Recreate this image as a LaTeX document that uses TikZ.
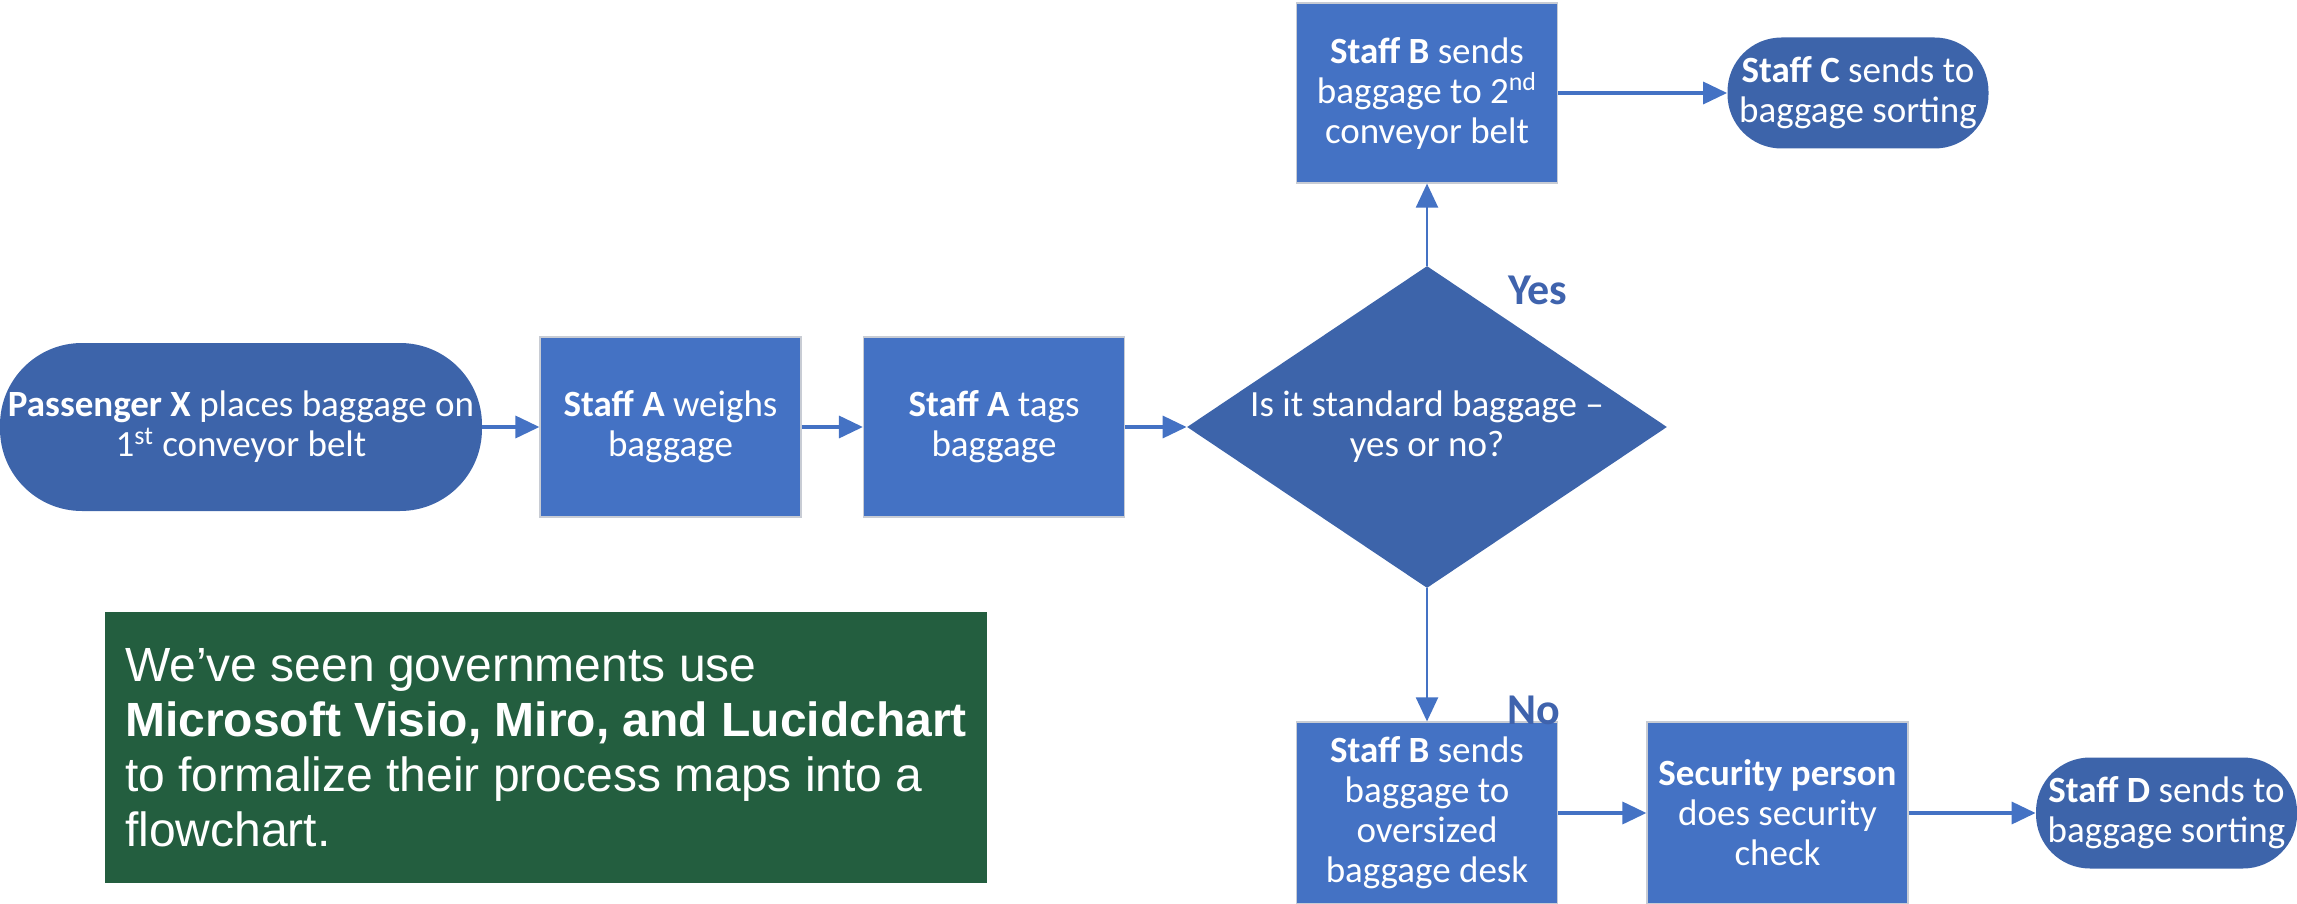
\documentclass[tikz,border=0pt]{standalone}
\usepackage{fontspec}
\setmainfont{Carlito}
\newfontfamily\arialf{Liberation Sans}
\usetikzlibrary{shapes.geometric,arrows.meta}
\definecolor{boxblue}{HTML}{4472C4}
\definecolor{darkblue}{HTML}{3D64AA}
\definecolor{labelblue}{HTML}{3F63AD}
\definecolor{boxgreen}{HTML}{235E3F}
\definecolor{edgegray}{HTML}{C8CCD4}
\begin{document}
\begin{tikzpicture}[x=0.5pt,y=-0.5pt,
  nodefont/.style={font=\fontsize{18.5}{20}\selectfont},
  stepbox/.style={rectangle, fill=boxblue, draw=edgegray, line width=0.6pt,
    minimum width=130.5pt, minimum height=90pt, inner sep=0pt, align=center,
    text=white, nodefont},
  termbox/.style={rectangle, rounded corners=27pt, fill=darkblue,
    minimum width=130.5pt, minimum height=55.5pt, inner sep=0pt, align=center,
    text=white, nodefont},
  decbox/.style={diamond, fill=darkblue, minimum width=240pt, minimum height=161pt,
    inner sep=0pt},
  yesno/.style={text=labelblue, font=\bfseries\fontsize{22}{24}\selectfont, inner sep=0pt},
  harr/.style={draw=boxblue, line width=1.75pt, -{Triangle[length=12pt,width=11pt]}},
  varr/.style={draw=boxblue, line width=1.1pt, -{Triangle[length=12pt,width=11pt]}}
]
\useasboundingbox (0,0) rectangle (2297,904);

\node[termbox, minimum width=241pt, minimum height=84pt, rounded corners=41pt]
  (pass) at (241,427) {{\bfseries Passenger X} places baggage on\\1\textsuperscript{st} conveyor belt};
\node[stepbox] (weigh) at (670.5,427) {{\bfseries Staff A} weighs\\baggage};
\node[stepbox] (tags) at (994,427) {{\bfseries Staff A} tags\\baggage};
\node[decbox] (dia) at (1427,427) {};
\node[nodefont, text=white, align=center, inner sep=0pt] (diatext) at (1427,427)
  {Is it standard baggage --\\yes or no?};
\node[stepbox] (topB) at (1427,93) {{\bfseries Staff B} sends\\baggage to 2\textsuperscript{nd}\\conveyor belt};
\node[termbox] (staffC) at (1858,93) {{\bfseries Staff C} sends to\\baggage sorting};
\node[stepbox, minimum height=91pt] (botB) at (1427,813) {{\bfseries Staff B} sends\\baggage to\\oversized\\baggage desk};
\node[stepbox, minimum height=91pt] (sec) at (1777.5,813) {{\bfseries Security person}\\does security\\check};
\node[termbox] (staffD) at (2166.5,813) {{\bfseries Staff D} sends to\\baggage sorting};

\node[yesno] (yes) at (1538,290) {Yes};
\node[yesno] (no) at (1534,710) {No};

\node[rectangle, fill=boxgreen, minimum width=441pt, minimum height=135.5pt,
  inner sep=0pt, align=left, text=white, font=\arialf\fontsize{24}{27.5}\selectfont]
  (note) at (546,747.5)
  {We’ve seen governments use\\{\bfseries Microsoft Visio, Miro, and Lucidchart}\\to formalize their process maps into a\\flowchart.};

\draw[harr] (pass) -- (weigh);
\draw[harr] (weigh) -- (tags);
\draw[harr] (tags) -- (dia);
\draw[varr] (dia) -- (topB);
\draw[harr] (topB) -- (staffC);
\draw[varr] (dia) -- (botB);
\draw[harr] (botB) -- (sec);
\draw[harr] (sec) -- (staffD);
\end{tikzpicture}
\end{document}
